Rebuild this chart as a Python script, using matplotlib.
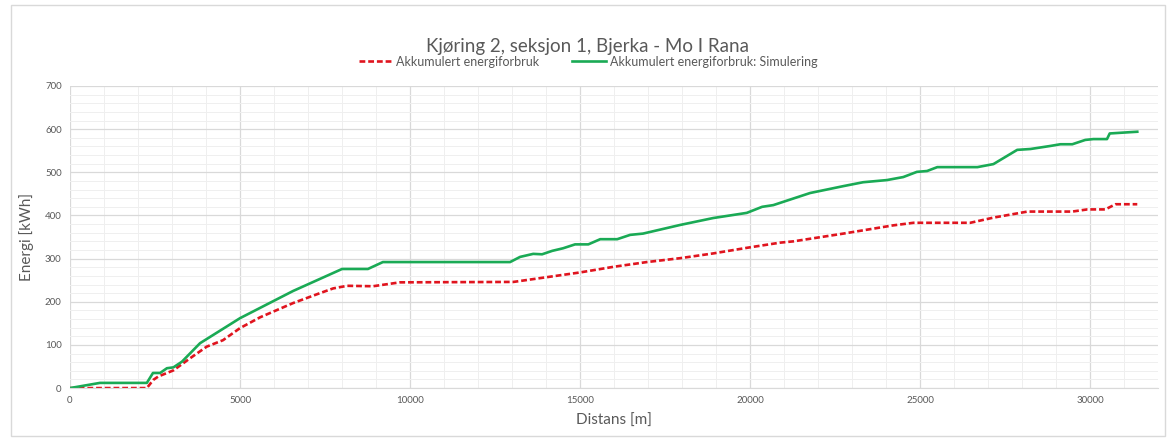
import numpy as np
import matplotlib.pyplot as plt
from matplotlib.patches import Rectangle
from matplotlib.ticker import MultipleLocator

plt.rcParams['font.family'] = ['Lato', 'DejaVu Sans']

# Målt akkumulert energiforbruk langs strekningen
dist_maalt = [0, 2260, 2450, 2600, 3040, 3530, 4020, 4500, 5000, 5590, 6560, 7350,
              7740, 8150, 8910, 9700, 13040, 14020, 15000, 15980, 16960, 17940,
              18910, 19900, 20880, 21270, 22740, 24200, 24800, 26470, 27150, 28150,
              29470, 29910, 30440, 30740, 31380]
energi_maalt = [0, 0, 19, 27, 41, 69, 96, 111, 139, 164, 197, 220,
                231, 237, 236, 245, 246, 257, 268, 281, 292, 301,
                312, 325, 337, 340, 358, 377, 383, 383, 395, 409,
                409, 414, 414, 426, 426]

# Simulert akkumulert energiforbruk
dist_sim = [0, 880, 2260, 2440, 2650, 2850, 3040, 3290, 3824, 5000, 6560, 8000,
            8760, 9200, 12940, 13235, 13620, 13880, 14180, 14500, 14850, 15240,
            15590, 16090, 16470, 16850, 17940, 18910, 19900, 20350, 20680, 21760,
            22740, 23320, 24020, 24500, 24900, 25200, 25500, 26680, 27150, 27850,
            28240, 28820, 29120, 29470, 29850, 30090, 30490, 30570, 30970, 31380]
energi_sim = [0, 12, 12, 35, 35, 46, 48, 61, 104, 162, 225, 276,
              276, 292, 292, 304, 311, 310, 318, 324, 333, 333,
              345, 345, 355, 358, 378, 394, 406, 420, 424, 452,
              468, 477, 482, 489, 501, 503, 512, 512, 519, 552,
              554, 561, 565, 565, 575, 577, 577, 590, 592, 594]

fig = plt.figure(figsize=(11.76, 4.41), dpi=100)
ax = fig.add_axes([0.0595, 0.12, 0.9255, 0.685])

ax.plot(dist_maalt, energi_maalt, color='#e0141e', lw=1.9, ls=(0, (2.2, 1.1)),
        label='Akkumulert energiforbruk')
ax.plot(dist_sim, energi_sim, color='#1aaa55', lw=1.9,
        label='Akkumulert energiforbruk: Simulering')

ax.set_xlim(0, 32000)
ax.set_ylim(0, 700)
ax.xaxis.set_major_locator(MultipleLocator(5000))
ax.xaxis.set_minor_locator(MultipleLocator(1000))
ax.yaxis.set_major_locator(MultipleLocator(100))
ax.yaxis.set_minor_locator(MultipleLocator(20))
ax.grid(which='major', color='#d9d9d9', lw=0.9)
ax.grid(which='minor', color='#efefef', lw=0.7)
ax.set_axisbelow(True)

for side in ['top', 'right', 'left']:
    ax.spines[side].set_visible(False)
ax.spines['bottom'].set_color('#d9d9d9')
ax.tick_params(which='both', length=0, labelsize=7, colors='#595959', pad=6)

ax.set_xlabel('Distans [m]', fontsize=11, color='#595959', labelpad=6)
ax.set_ylabel('Energi [kWh]', fontsize=11, color='#595959', labelpad=8)

fig.text(0.5, 0.895, 'Kjøring 2, seksjon 1, Bjerka - Mo I Rana', ha='center', va='center',
         fontsize=13.5, color='#595959')
leg = ax.legend(loc='center', bbox_to_anchor=(0.5, 0.86), bbox_transform=fig.transFigure,
                ncol=2, frameon=False, fontsize=9, handlelength=2.7, columnspacing=2.6,
                handletextpad=0.3)
for t in leg.get_texts():
    t.set_color('#595959')

fig.patches.append(Rectangle((0.009, 0.012), 0.982, 0.976, transform=fig.transFigure,
                             fill=False, ec='#d9d9d9', lw=1))

fig.savefig('out.png', dpi=100)
